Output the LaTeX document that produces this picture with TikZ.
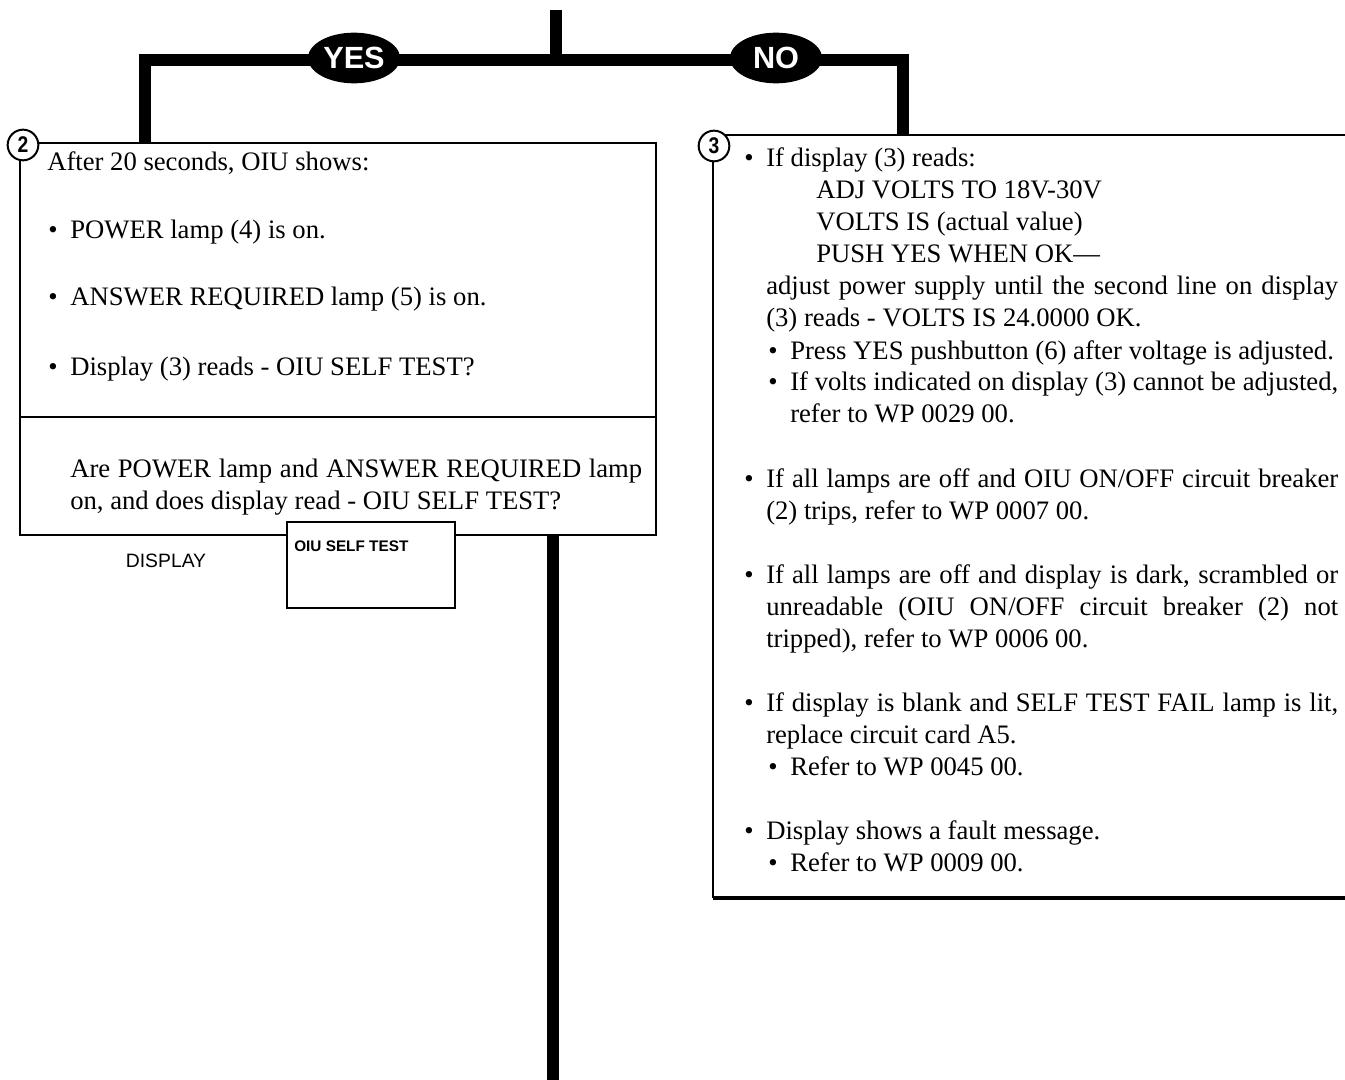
\documentclass[tikz,border=0pt]{standalone}
\usepackage{fontspec}
\setmainfont{Liberation Serif}
\setsansfont{Liberation Sans}
\newfontfamily\narrowsans[FakeStretch=0.85]{Liberation Sans}
\usetikzlibrary{positioning,fit,shapes.geometric}
\tikzset{
    every picture/.style={line join=miter},
    flow/.style={draw=black,line width=9pt},
    panel/.style={draw=black,line width=1.8pt,inner sep=0pt},
    stepno/.style={circle,draw=black,fill=white,line width=1.5pt,
      minimum size=23pt,inner sep=0pt,font=\narrowsans\bfseries\fontsize{17}{17}\selectfont},
    answer/.style={ellipse,fill=black,text=white,minimum width=69pt,minimum height=38pt,
      inner sep=0pt,font=\sffamily\bfseries\fontsize{23}{23}\selectfont},
    txt/.style={anchor=base west,inner sep=0pt,font=\fontsize{20}{24}\selectfont},
    para/.style={txt,text width=429pt,align=justify},
    subpara/.style={txt,text width=411pt,align=justify},
    dot/.style={anchor=base east,inner sep=0pt,font=\fontsize{20}{24}\selectfont},
    screen/.style={draw=black,fill=white,line width=1.8pt,inner sep=0pt}
}
\begin{document}
\begin{tikzpicture}[x=0.75pt,y=-0.75pt]
  \useasboundingbox (0,0) rectangle (1345,1080);

  % boxes
  \node[panel,fit={(20,143) (656,535)}] (box2) {};
  \draw[panel] (20,417) -- (656,417);
  \coordinate (b3ne) at (1345,135);
  \coordinate (b3nw) at (713,135);
  \coordinate (b3sw) at (713,898);
  \coordinate (b3se) at (1345,898);
  \draw[panel] (b3ne) -- (b3nw) -- (b3sw);
  \draw[panel,line width=2.4pt] (b3sw) -- (b3se);

  % branch lines
  \coordinate (top) at (556,10);
  \coordinate (fork) at (556,60);
  \coordinate (lturn) at (145,60);
  \coordinate (rturn) at (903,60);
  \coordinate (out) at (553,1080);
  \draw[flow] (top) -- (fork);
  \draw[flow] (box2.north -| lturn) -- (lturn) -- (rturn) -- (b3nw -| rturn);
  \draw[flow] (box2.south -| out) -- (out);
  \node[answer] (yes) at (354,58) {YES};
  \node[answer] (no) at (776,58) {NO};

  % step numbers
  \node[stepno] (n2) at (23,145) {2};
  \node[stepno] (n3) at (714,146) {3};

  % display window
  \node[screen,fit={(287,522) (455,608)}] (disp) {};
  \node[anchor=north west,inner sep=0pt,font=\sffamily\bfseries\fontsize{11.5}{12}\selectfont]
    (disptxt) at (294,541) {OIU SELF TEST};
  \node[font=\sffamily\fontsize{14.5}{15}\selectfont] (displbl) at (166,561) {DISPLAY};

  % left box text
  \node[txt] (a0) at (47,171) {After 20 seconds, OIU shows:};
  \node[txt] (a1) at (70,239) {POWER lamp (4) is on.};
  \node[txt] (a2) at (70,306) {ANSWER REQUIRED lamp (5) is on.};
  \node[txt] (a3) at (70,375) {Display (3) reads - OIU SELF TEST?};
  \foreach \n in {a1,a2,a3}
    \node[dot] at ([xshift=-9pt]\n.base west) {\textbullet};
  \node[para] (q) at (70,477) {Are POWER lamp and ANSWER REQUIRED lamp\linebreak
    on, and does display read - OIU SELF TEST?};

  % right box text
  \node[txt] (r1) at (766,167) {If display (3) reads:};
  \node[txt] (r1a) at (816,199) {ADJ VOLTS TO 18V-30V};
  \node[txt] (r1b) at (816,231) {VOLTS IS (actual value)};
  \node[txt] (r1c) at (816,263) {PUSH YES WHEN OK---};
  \node[para] (r1d) at (766,295) {adjust power supply until the second line on display\linebreak
    (3) reads - VOLTS IS 24.0000 OK.};
  \node[subpara] (s1) at (790,359) {Press YES pushbutton (6) after voltage is adjusted.};
  \node[subpara] (s2) at (790,391) {If volts indicated on display (3) cannot be adjusted,\linebreak
    refer to WP 0029 00.};
  \node[para] (r2) at (766,487) {If all lamps are off and OIU ON/OFF circuit breaker\linebreak
    (2) trips, refer to WP 0007 00.};
  \node[para] (r3) at (766,583) {If all lamps are off and display is dark, scrambled or\linebreak
    unreadable (OIU ON/OFF circuit breaker (2) not\linebreak
    tripped), refer to WP 0006 00.};
  \node[para] (r4) at (766,711) {If display is blank and SELF TEST FAIL lamp is lit,\linebreak
    replace circuit card A5.};
  \node[subpara] (s3) at (790,775) {Refer to WP 0045 00.};
  \node[para] (r5) at (766,839) {Display shows a fault message.};
  \node[subpara] (s4) at (790,871) {Refer to WP 0009 00.};
  \foreach \n in {r1,r2,r3,r4,r5,s1,s2,s3,s4}
    \node[dot] at ([xshift=-9pt]\n.base west) {\textbullet};
\end{tikzpicture}
\end{document}
